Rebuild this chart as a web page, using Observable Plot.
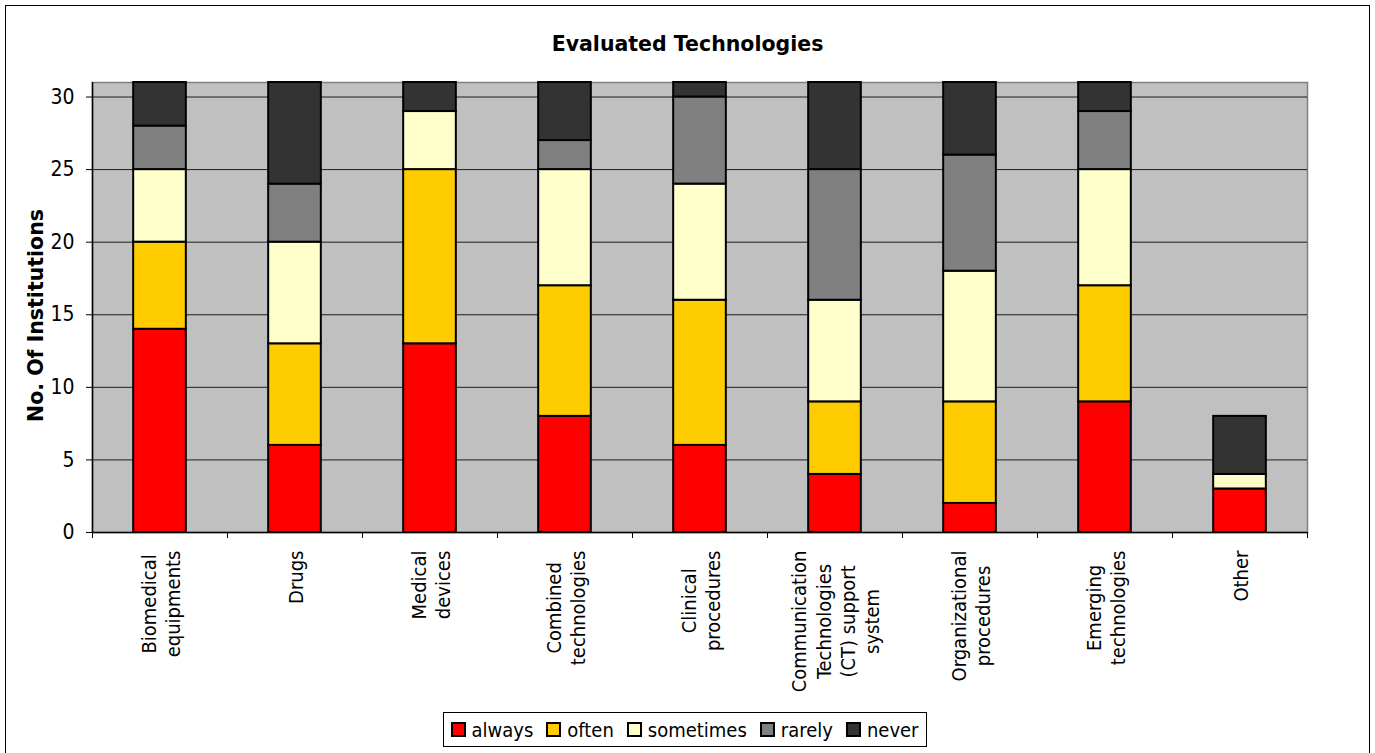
<!DOCTYPE html>
<html>
<head>
<meta charset="utf-8">
<script src="https://cdn.jsdelivr.net/npm/d3@7"></script>
<script src="https://cdn.jsdelivr.net/npm/@observablehq/plot@0.6"></script>
<style>
  body { margin: 0; background: #fff; font-family: "DejaVu Sans Condensed", "DejaVu Sans", sans-serif; color: #000; }
  #frame { position: absolute; left: 5px; top: 5px; width: 1365px; height: 760px; border: 1px solid #000; box-sizing: border-box; }
  #title { position: absolute; left: 0; top: 32px; width: 1375px; text-align: center; font: bold 20.5px "DejaVu Sans", sans-serif; line-height: 24px; }
  #chart { position: absolute; left: 0; top: 0; }
  #legend { position: absolute; top: 712px; left: 684.5px; transform: translateX(-50%); height: 35px; box-sizing: border-box;
            border: 1px solid #000; display: flex; align-items: center; padding: 0 7px; font-size: 20px; white-space: nowrap; background: #fff; }
  #legend .item { display: flex; align-items: center; margin-right: 13px; }
  #legend .item:last-child { margin-right: 0; }
  #legend .sw { width: 15px; height: 15px; box-sizing: border-box; border: 2px solid #000; margin-right: 6px; }
</style>
</head>
<body>
<div id="frame"></div>
<div id="title">Evaluated Technologies</div>
<div id="chart"></div>
<div id="legend"></div>
<script>
// Technology categories (line breaks as shown under the axis)
const categories = [
  "Biomedical\nequipments",
  "Drugs",
  "Medical\ndevices",
  "Combined\ntechnologies",
  "Clinical\nprocedures",
  "Communication\nTechnologies\n(CT) support\nsystem",
  "Organizational\nprocedures",
  "Emerging\ntechnologies",
  "Other"
];

// Frequency of evaluation, bottom to top of each stack
const responses = ["always", "often", "sometimes", "rarely", "never"];
const colors = ["#ff0000", "#ffcc00", "#ffffcc", "#808080", "#333333"];

// Number of institutions per category
const always    = [14, 6, 13, 8, 6, 4, 2, 9, 3];
const often     = [6, 7, 12, 9, 10, 5, 7, 8, 0];
const sometimes = [5, 7, 4, 8, 8, 7, 9, 8, 1];
const rarely    = [3, 4, 0, 2, 6, 9, 8, 4, 0];
const never     = [3, 7, 2, 4, 1, 6, 5, 2, 4];

const yTicks = [0, 5, 10, 15, 20, 25, 30];
const yMax = 31;

const series = [always, often, sometimes, rarely, never];
const data = [];
categories.forEach((c, i) => {
  responses.forEach((r, k) => {
    const v = series[k][i];
    if (v > 0) data.push({idx: i, category: c, response: r, value: v});
  });
});

const chart = Plot.plot({
  width: 1375,
  height: 700,
  marginLeft: 92,
  marginRight: 68,
  marginTop: 82,
  marginBottom: 168,
  style: {background: "transparent", fontFamily: "'DejaVu Sans Condensed', 'DejaVu Sans', sans-serif", fontSize: "20px", color: "#000"},
  x: {domain: [0, categories.length], axis: null},
  y: {domain: [0, yMax], axis: null},
  color: {domain: responses, range: colors},
  marks: [
    Plot.frame({fill: "#c0c0c0", stroke: "#808080", strokeWidth: 1.5}),
    Plot.gridY(yTicks, {stroke: "#000", strokeOpacity: 0.85, strokeWidth: 1}),
    Plot.rectY(data, {
      x1: d => d.idx + 0.305,
      x2: d => d.idx + 0.695,
      y: "value",
      fill: "response",
      stroke: "#000",
      strokeWidth: 2
    }),
    Plot.ruleX([0], {stroke: "#000", strokeWidth: 1.5}),
    Plot.ruleY([0], {stroke: "#000", strokeWidth: 1.5}),
    Plot.axisY({ticks: yTicks, tickSize: 6, tickPadding: 12, fontSize: 21, label: null}),
    Plot.axisX({ticks: d3.range(categories.length + 1), tickSize: 6, tickFormat: () => "", label: null}),
    Plot.text(categories, {
      x: (d, i) => i + 0.5,
      text: d => d,
      frameAnchor: "bottom",
      rotate: -90,
      textAnchor: "end",
      lineAnchor: "middle",
      lineHeight: 1.22,
      dy: 18,
      fontSize: 20,
      className: "xlab"
    }),
    Plot.text(["No. Of Institutions"], {
      text: d => d,
      frameAnchor: "left",
      rotate: -90,
      textAnchor: "middle",
      dx: -56,
      dy: 8,
      fontSize: 20.5,
      fontWeight: "bold",
      fontFamily: "DejaVu Sans"
    })
  ]
});

document.getElementById("chart").append(chart);

// Center the lines of each category label on one another
chart.querySelectorAll("g.xlab text").forEach(t => {
  const spans = [...t.querySelectorAll("tspan")];
  const items = spans.length ? spans : [t];
  const w = d3.max(items, s => s.getComputedTextLength());
  t.setAttribute("text-anchor", "middle");
  items.forEach(s => s.setAttribute("x", -w / 2));
});

// Legend
const legend = document.getElementById("legend");
responses.forEach((r, k) => {
  const item = document.createElement("div");
  item.className = "item";
  const sw = document.createElement("div");
  sw.className = "sw";
  sw.style.background = colors[k];
  const label = document.createElement("span");
  label.textContent = r;
  item.append(sw, label);
  legend.append(item);
});
</script>
</body>
</html>
